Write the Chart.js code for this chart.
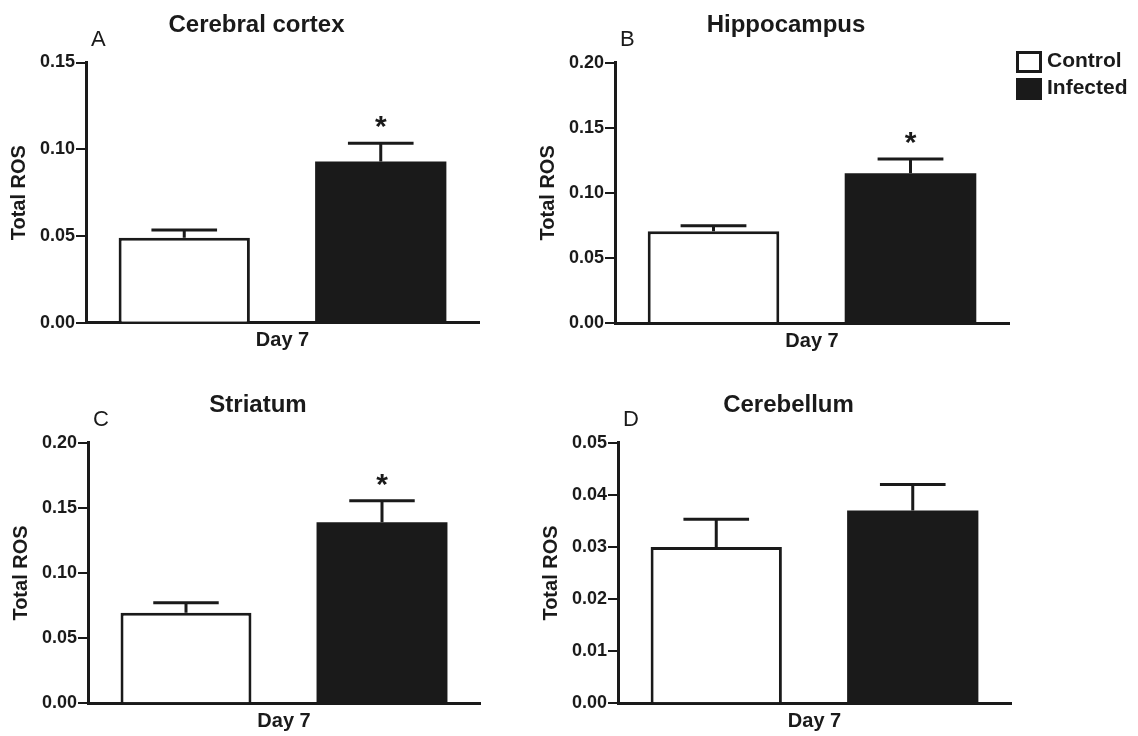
<!DOCTYPE html>
<html>
<head>
<meta charset="utf-8">
<title>Total ROS - Day 7</title>
<script src="https://cdn.jsdelivr.net/npm/chart.js@4.4.1/dist/chart.umd.min.js"></script>
<style>
  html, body { margin: 0; padding: 0; background: #fff; }
  #wrap { position: relative; width: 1138px; height: 736px; overflow: hidden; }
  #wrap canvas { position: absolute; }
</style>
</head>
<body>
<div id="wrap">
  <canvas id="panel0"></canvas>
  <canvas id="panel1"></canvas>
  <canvas id="panel2"></canvas>
  <canvas id="panel3"></canvas>
</div>
<script>
// values (mean and upper SEM)
const regions = ['Cerebral cortex', 'Hippocampus', 'Striatum', 'Cerebellum'];
const panelLetters = ['A', 'B', 'C', 'D'];
const groups = ['Control', 'Infected'];
const xLabels = ['Day 7'];
const yTitle = 'Total ROS';
const controlMean = [0.0490, 0.0705, 0.0695, 0.0300];
const controlSem = [0.0045, 0.0043, 0.0077, 0.0053];
const infectedMean = [0.0930, 0.1150, 0.1390, 0.0370];
const infectedSem = [0.0105, 0.0110, 0.0165, 0.0050];
const significant = [true, true, true, false];
const yMax = [0.15, 0.20, 0.20, 0.05];
const yStep = [0.05, 0.05, 0.05, 0.01];

// where each panel sits on the page (px)
const panelBoxes = [
  { left: 0,   top: 0,   width: 513, height: 362, plotLeft: 86,  plotRight: 479,  plotTop: 62.5,  plotBottom: 322.8 },
  { left: 434, top: 0,   width: 704, height: 362, plotLeft: 615, plotRight: 1009, plotTop: 62.7,  plotBottom: 323 },
  { left: 0,   top: 368, width: 516, height: 368, plotLeft: 88,  plotRight: 480,  plotTop: 442.7, plotBottom: 703.3 },
  { left: 439, top: 368, width: 699, height: 368, plotLeft: 618, plotRight: 1011, plotTop: 442.7, plotBottom: 703.3 }
];

const ink = '#1a1a1a';
const family = "'Liberation Sans', Arial, Helvetica, sans-serif";
Chart.defaults.font.family = family;
Chart.defaults.color = ink;

const errorBars = {
  id: 'errorBars',
  afterDatasetsDraw(chart) {
    const { ctx } = chart;
    const y = chart.scales.y;
    ctx.save();
    ctx.strokeStyle = ink;
    ctx.fillStyle = ink;
    ctx.lineWidth = 3;
    ctx.font = 'bold 30px ' + family;
    ctx.textAlign = 'center';
    ctx.textBaseline = 'alphabetic';
    chart.data.datasets.forEach((ds, d) => {
      chart.getDatasetMeta(d).data.forEach((bar, k) => {
        const top = y.getPixelForValue(ds.data[k] + ds.sem[k]);
        const half = bar.width / 4;
        ctx.beginPath();
        ctx.moveTo(bar.x, bar.y);
        ctx.lineTo(bar.x, top);
        ctx.moveTo(bar.x - half, top);
        ctx.lineTo(bar.x + half, top);
        ctx.stroke();
        if (ds.stars && ds.stars[k]) {
          ctx.fillText('*', bar.x, top - 7);
        }
      });
    });
    ctx.restore();
  }
};

// region title and panel letter above each plot
const panelHeading = {
  id: 'panelHeading',
  afterDraw(chart, args, opts) {
    const { ctx, chartArea } = chart;
    ctx.save();
    ctx.fillStyle = ink;
    ctx.textBaseline = 'alphabetic';
    ctx.font = 'bold 24px ' + family;
    ctx.textAlign = 'center';
    ctx.fillText(opts.title, (chartArea.left + chartArea.right) / 2 - 26, chartArea.top - 31);
    ctx.font = '22px ' + family;
    ctx.textAlign = 'left';
    ctx.fillText(opts.letter, chartArea.left + 5, chartArea.top - 17);
    ctx.restore();
  }
};

const boxLegend = {
  id: 'boxLegend',
  afterDraw(chart, args, opts) {
    if (!opts.show) return;
    const { ctx, chartArea } = chart;
    ctx.save();
    ctx.font = 'bold 21px ' + family;
    ctx.textAlign = 'left';
    ctx.textBaseline = 'middle';
    chart.data.datasets.forEach((ds, d) => {
      const x = chartArea.right + 8.5;
      const y = chartArea.top - 10.2 + d * 27;
      ctx.fillStyle = ds.backgroundColor;
      ctx.fillRect(x, y, 23, 19);
      ctx.lineWidth = 3;
      ctx.strokeStyle = ink;
      ctx.strokeRect(x, y, 23, 19);
      ctx.fillStyle = ink;
      ctx.fillText(ds.label, chartArea.right + 38, y + 8.5);
    });
    ctx.restore();
  }
};

regions.forEach((region, i) => {
  const box = panelBoxes[i];
  const canvas = document.getElementById('panel' + i);
  canvas.width = box.width;
  canvas.height = box.height;
  canvas.style.left = box.left + 'px';
  canvas.style.top = box.top + 'px';
  canvas.style.width = box.width + 'px';
  canvas.style.height = box.height + 'px';

  new Chart(canvas.getContext('2d'), {
    type: 'bar',
    data: {
      labels: xLabels,
      datasets: [
        {
          label: groups[0],
          data: [controlMean[i]],
          sem: [controlSem[i]],
          stars: [false],
          backgroundColor: '#ffffff',
          borderColor: ink,
          borderWidth: 3
        },
        {
          label: groups[1],
          data: [infectedMean[i]],
          sem: [infectedSem[i]],
          stars: [significant[i]],
          backgroundColor: ink,
          borderColor: ink,
          borderWidth: 0
        }
      ]
    },
    options: {
      responsive: false,
      animation: false,
      devicePixelRatio: 1,
      categoryPercentage: 1,
      barPercentage: 0.668,
      layout: {
        padding: {
          left: 0,
          top: box.plotTop - box.top,
          bottom: 0,
          right: box.left + box.width - box.plotRight
        }
      },
      plugins: {
        legend: { display: false },
        tooltip: { enabled: false },
        title: { display: false },
        panelHeading: { title: region, letter: panelLetters[i] },
        boxLegend: { show: i === 1 }
      },
      scales: {
        x: {
          grid: { display: false, drawTicks: false },
          border: { display: true, color: ink, width: 3 },
          ticks: {
            color: ink,
            padding: 6,
            font: { size: 20, weight: 'bold', lineHeight: 1.2 }
          },
          afterFit(scale) {
            scale.height = box.top + box.height - box.plotBottom;
          }
        },
        y: {
          min: 0,
          max: yMax[i],
          grid: {
            display: true,
            drawOnChartArea: false,
            drawTicks: true,
            tickLength: 10,
            lineWidth: 2,
            color: ink
          },
          border: { display: true, color: ink, width: 3 },
          ticks: {
            stepSize: yStep[i],
            color: ink,
            padding: 1,
            font: { size: 18, weight: 'bold' },
            callback: (value) => Number(value).toFixed(2)
          },
          title: {
            display: true,
            text: yTitle,
            color: ink,
            font: { size: 20, weight: 'bold', lineHeight: 1.2 },
            padding: { top: box.plotLeft - 66.5 - box.left - 12, bottom: 0 }
          },
          afterFit(scale) {
            scale.width = box.plotLeft - box.left;
          }
        }
      }
    },
    plugins: [errorBars, panelHeading, boxLegend]
  });
});
</script>
</body>
</html>
